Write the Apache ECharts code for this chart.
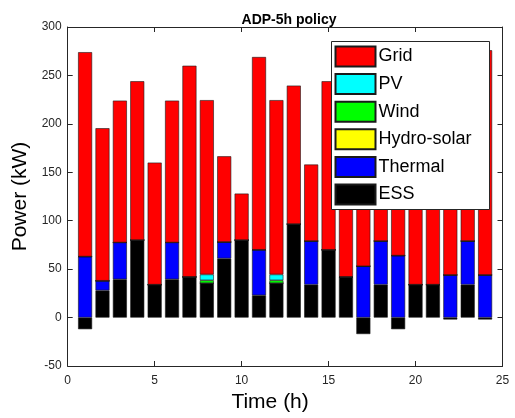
<!DOCTYPE html>
<html><head><meta charset="utf-8">
<script src="https://cdn.jsdelivr.net/npm/echarts@6/dist/echarts.min.js"></script>
<style>html,body{margin:0;padding:0;background:#fff}#c{width:515px;height:418px}</style>
</head><body><div id="c"></div>
<script>
const hours = [1,2,3,4,5,6,7,8,9,10,11,12,13,14,15,16,17,18,19,20,21,22,23,24];
const ess     = [-12,28,39.5,80,34,39.5,42,35.5,61,80,23,35.5,96.5,34,70,42,-17,34,-12,34,34,-2,34,-2];
const thermal = [63,10,38,0,0,38,0,0,17,0,47,0,0,45,0,0,53,45,64,0,0,44,45,44];
const hydro   = [0,0,0,0,0,0,0,0,0,0,0,0,0,0,0,0,0,0,0,0,0,0,0,0];
const wind    = [0,0,0,0,0,0,0,3,0,0,0,3,0,0,0,0,0,0,0,0,0,0,0,0];
const pv      = [0,0,0,0,0,0,0,6,0,0,0,6,0,0,0,0,0,0,0,0,0,0,0,0];
const grid    = [211,157.5,146.5,164,126,146.5,218,180,88.5,48,199,180,143,79,174,183,187,121,196,151,196,206,136,232];
const xTicks = [0,5,10,15,20,25];
const yTicks = [-50,0,50,100,150,200,250,300];

// category slots 0..25 so that hour h sits exactly at x = h
const slots = [0].concat(hours, [25]);
const font = 'Liberation Sans, Arial, Helvetica, sans-serif';
const axisCol = '#262626';
const chart = echarts.init(document.getElementById('c'), null, {renderer:'canvas'});
function mk(name, arr, color){
  const m = {}; hours.forEach((h,i)=>{ m[h] = arr[i]; });
  return {name, type:'bar', stack:'total', barWidth:14, xAxisIndex:0, yAxisIndex:0,
    data: slots.map(s => (s in m) ? m[s] : '-'),
    itemStyle:{color, borderColor:'#1a1a1a', borderWidth:0.6},
    emphasis:{disabled:true}, z:2};
}
const tickShow = (i, v) => xTicks.includes(Number(v));
chart.setOption({
  animation:false,
  title:{text:'ADP-5h policy', left:284, top:8, textAlign:'center',
    textStyle:{fontFamily:font, fontSize:14, fontWeight:'bold', color:'#000'}},
  grid:{left:67.7, right:12.5, top:27, bottom:52, containLabel:false},
  legend:{orient:'vertical', left:331.5, top:41.5, itemWidth:40, itemHeight:20, itemGap:5.6,
    padding:[4,18,4,3], backgroundColor:'#fff', borderColor:'#262626', borderWidth:1,
    icon:'rect', z:10,
    textStyle:{fontFamily:font, fontSize:18, color:'#000', padding:[0,0,0,-2]},
    data:['Grid','PV','Wind','Hydro-solar','Thermal','ESS']},
  xAxis:[
    {type:'category', data:slots.map(String), boundaryGap:false, position:'bottom',
      name:'Time (h)', nameLocation:'middle', nameGap:25,
      nameTextStyle:{fontFamily:font, fontSize:21, color:'#000', padding:[0,30,0,0]},
      axisLine:{onZero:false, lineStyle:{color:axisCol, width:1}},
      axisTick:{inside:true, length:5, interval:tickShow, lineStyle:{color:axisCol}},
      axisLabel:{fontFamily:font, fontSize:12, color:axisCol, margin:9, interval:tickShow},
      splitLine:{show:false}},
    {type:'category', data:slots.map(String), boundaryGap:false, position:'top',
      axisLine:{onZero:false, lineStyle:{color:axisCol, width:1}},
      axisTick:{inside:true, length:5, interval:tickShow, lineStyle:{color:axisCol}},
      axisLabel:{show:false}, splitLine:{show:false}}
  ],
  yAxis:[
    {type:'value', min:-50, max:300, interval:50, position:'left', name:'Power (kW)', nameLocation:'middle', nameGap:25,
      nameTextStyle:{fontFamily:font, fontSize:21, color:'#000'},
      axisLine:{show:true, onZero:false, lineStyle:{color:axisCol, width:1}},
      axisTick:{show:true, inside:true, length:5, lineStyle:{color:axisCol}},
      axisLabel:{fontFamily:font, fontSize:12, color:axisCol, margin:6, formatter:v=>yTicks.includes(v)?String(v):''},
      splitLine:{show:false}},
    {type:'value', min:-50, max:300, interval:50, position:'right',
      axisLine:{show:true, onZero:false, lineStyle:{color:axisCol, width:1}},
      axisTick:{show:true, inside:true, length:5, lineStyle:{color:axisCol}},
      axisLabel:{show:false}, splitLine:{show:false}}
  ],
  series:[
    mk('ESS', ess, '#000000'),
    mk('Thermal', thermal, '#0000ff'),
    mk('Hydro-solar', hydro, '#ffff00'),
    mk('Wind', wind, '#00ff00'),
    mk('PV', pv, '#00ffff'),
    mk('Grid', grid, '#ff0000')
  ]
});
</script></body></html>
